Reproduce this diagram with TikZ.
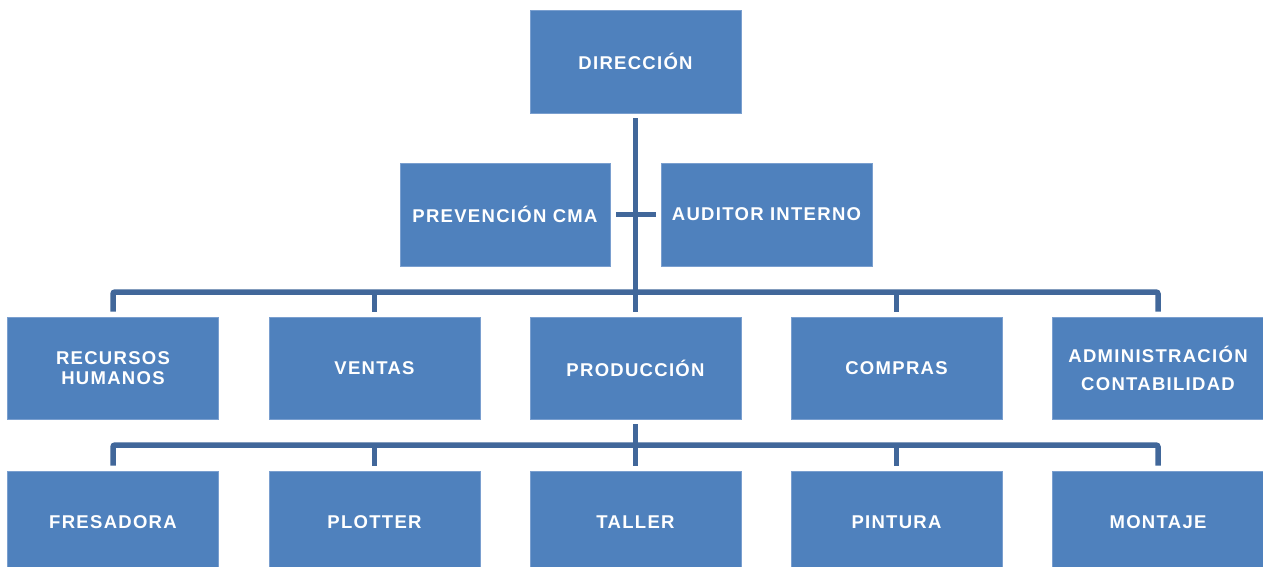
\documentclass[tikz,border=0pt]{standalone}
\usepackage{fontspec}
\setmainfont{Liberation Sans}[LetterSpace=7]
\definecolor{boxblue}{HTML}{4F81BD}
\definecolor{boxedge}{HTML}{7A9FCF}
\definecolor{linecol}{HTML}{41679A}
\begin{document}
\begin{tikzpicture}[x=1pt,y=-1pt,
  unit/.style={rectangle, fill=boxblue, draw=boxedge, line width=0.8pt,
    minimum width=211pt, minimum height=103pt, inner sep=0pt,
    text=white, font=\fontsize{18.5}{20}\selectfont\bfseries, align=center},
  conn/.style={draw=linecol, line width=5.5pt}]
\useasboundingbox (0,0) rectangle (1263,566);
% nodes
\node[unit] (dir) at (635.5,61.5) {DIRECCIÓN};
\node[unit, minimum width=210pt] (prev) at (505,214.5) {PREVENCIÓN CMA};
\node[unit] (aud) at (766.5,214.5) {AUDITOR INTERNO};
\node[unit, minimum height=102pt] (rh) at (113,368) {RECURSOS\\HUMANOS};
\node[unit, minimum height=102pt] (ven) at (374.5,368) {VENTAS};
\node[unit, minimum height=102pt] (prod) at (635.5,368) {PRODUCCIÓN};
\node[unit, minimum height=102pt] (com) at (896.5,368) {COMPRAS};
\node[unit, minimum height=102pt, font=\fontsize{18.5}{28}\selectfont\bfseries] (adm) at (1158,368) {ADMINISTRACIÓN\\CONTABILIDAD};
\node[unit, minimum height=102pt] (fre) at (113,522) {FRESADORA};
\node[unit, minimum height=102pt] (plo) at (374.5,522) {PLOTTER};
\node[unit, minimum height=102pt] (tal) at (635.5,522) {TALLER};
\node[unit, minimum height=102pt] (pin) at (896.5,522) {PINTURA};
\node[unit, minimum height=102pt] (mon) at (1158,522) {MONTAJE};
% connectors
\coordinate (b1) at (635.5,292);
\coordinate (b2) at (635.5,445);
\draw[conn] ([yshift=-5pt]dir.south) -- ([yshift=5pt]prod.north);
\draw[conn] ([xshift=6pt]prev.east) -- ([xshift=-5pt]aud.west);
\draw[conn, rounded corners=2pt] ([yshift=5pt]rh.north) |- (b1) -| ([yshift=5pt]adm.north);
\foreach \n in {ven,com} \draw[conn] ([yshift=5pt]\n.north) -- (\n.north |- b1);
\draw[conn] ([yshift=-5pt]prod.south) -- (b2);
\draw[conn, rounded corners=2pt] ([yshift=5pt]fre.north) |- (b2) -| ([yshift=5pt]mon.north);
\foreach \n in {plo,tal,pin} \draw[conn] ([yshift=5pt]\n.north) -- (\n.north |- b2);
\end{tikzpicture}
\end{document}
